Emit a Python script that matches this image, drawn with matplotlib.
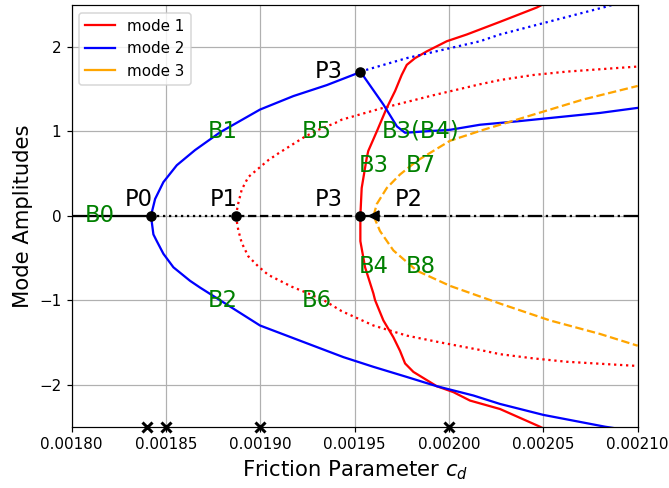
import matplotlib
matplotlib.use("Agg")
import matplotlib.pyplot as plt
from matplotlib.ticker import FormatStrFormatter

# ---- branch data (friction parameter c_d, mode amplitude) ----
# mode 2, stable upper branch from P0 up to P3
m2_up_x = [0.001842, 0.0018442, 0.0018486, 0.0018557, 0.0018654, 0.0018786,
           0.0018998, 0.0019175, 0.0019352, 0.0019502, 0.001953]
m2_up_y = [0.0, 0.20, 0.40, 0.60, 0.78, 0.99, 1.26, 1.42, 1.55, 1.68, 1.71]

# mode 2, stable lower branch from P0
m2_lo_x = [0.001842, 0.0018433, 0.0018451, 0.0018486, 0.0018539, 0.0018627,
           0.001868, 0.0018786, 0.0018998, 0.001921, 0.001944, 0.0019599,
           0.0019776, 0.0019935, 0.0020129, 0.002027, 0.00205, 0.0020827, 0.0021]
m2_lo_y = [0.0, -0.22, -0.30, -0.45, -0.61, -0.77, -0.85, -1.00, -1.30, -1.48,
           -1.675, -1.79, -1.91, -2.02, -2.13, -2.23, -2.36, -2.50, -2.56]

# mode 2 after P3: stable branch B3(B4) and unstable continuation
m2_b34_x = [0.001953, 0.0019652, 0.0019724, 0.0019767, 0.0019864, 0.0020005,
            0.0020164, 0.0020359, 0.00208, 0.0021]
m2_b34_y = [1.71, 1.32, 1.06, 0.985, 1.00, 1.02, 1.08, 1.12, 1.22, 1.28]
m2_uns_x = [0.001953, 0.0019776, 0.0020164, 0.002027, 0.0020833, 0.002091]
m2_uns_y = [1.71, 1.87, 2.07, 2.15, 2.48, 2.53]

# mode 1, stable branches from P3
m1_up_x = [0.001953, 0.0019537, 0.0019564, 0.0019572, 0.0019617, 0.001967,
           0.0019714, 0.0019749, 0.0019776, 0.001982, 0.0019882, 0.0019988,
           0.0020094, 0.002027, 0.0020465, 0.0020509]
m1_up_y = [0.0, 0.33, 0.69, 0.77, 1.00, 1.28, 1.48, 1.67, 1.79, 1.87, 1.95,
           2.07, 2.15, 2.30, 2.47, 2.52]
m1_lo_x = [0.001953, 0.001953, 0.0019555, 0.0019599, 0.0019608, 0.0019652,
           0.0019705, 0.001974, 0.0019767, 0.0019811, 0.0019935, 0.0020023,
           0.0020111, 0.002027, 0.0020482, 0.0020525]
m1_lo_y = [0.0, -0.30, -0.61, -0.92, -1.00, -1.24, -1.44, -1.60, -1.75, -1.85,
           -2.02, -2.09, -2.19, -2.29, -2.50, -2.55]

# mode 1, unstable branches from P1
m1u_up_x = [0.001887, 0.0018883, 0.0018901, 0.0018936, 0.0018989, 0.0019042,
            0.0019095, 0.0019166, 0.0019237, 0.0019307, 0.0019396, 0.0019431,
            0.0019634, 0.0019776, 0.0019917, 0.0020164, 0.002027, 0.0020447,
            0.0020624, 0.0021]
m1u_up_y = [0.0, 0.15, 0.31, 0.46, 0.56, 0.66, 0.74, 0.84, 0.94, 1.02, 1.10,
            1.14, 1.27, 1.35, 1.43, 1.56, 1.61, 1.67, 1.71, 1.77]
m1u_lo_x = [0.001887, 0.0018883, 0.0018901, 0.0018936, 0.0018989, 0.0019042,
            0.0019113, 0.0019166, 0.0019254, 0.0019343, 0.0019431, 0.0019599,
            0.0019776, 0.0019952, 0.0020164, 0.002027, 0.0020447, 0.0020624,
            0.0021]
m1u_lo_y = [0.0, -0.17, -0.32, -0.48, -0.60, -0.70, -0.78, -0.84, -0.92, -1.01,
            -1.13, -1.30, -1.42, -1.50, -1.59, -1.64, -1.69, -1.73, -1.78]

# mode 3, branches from P2
m3_up_x = [0.00196, 0.0019617, 0.001967, 0.001974, 0.0019829, 0.0020005,
           0.0020182, 0.0020447, 0.0020712, 0.0021]
m3_up_y = [0.0, 0.14, 0.33, 0.49, 0.65, 0.89, 1.02, 1.20, 1.38, 1.54]
m3_lo_x = [0.00196, 0.0019634, 0.0019705, 0.0019829, 0.0020005, 0.002027,
           0.0020535, 0.00208, 0.0021]
m3_lo_y = [0.0, -0.18, -0.41, -0.65, -0.83, -1.04, -1.24, -1.40, -1.54]

# bifurcation points
P0 = (0.001842, 0.0)
P1 = (0.001887, 0.0)
P2 = (0.00196, 0.0)
P3_zero = (0.001953, 0.0)
P3_up = (0.001953, 1.71)
x_min, x_max = 0.0018, 0.0021

# critical friction values marked on the axis
cd_marks = [0.00184, 0.00185, 0.00190, 0.00200]

branch_names = ["B0", "B1", "B2", "B5", "B6", "B3(B4)", "B3", "B7", "B4", "B8"]
branch_pos = [(0.001815, 0.0), (0.00188, 1.0), (0.00188, -1.0),
              (0.00193, 1.0), (0.00193, -1.0), (0.001985, 1.0),
              (0.00196, 0.6), (0.001985, 0.6), (0.00196, -0.6),
              (0.001985, -0.6)]

point_names = ["P0", "P1", "P3", "P2", "P3"]
point_label_pos = [(0.0018283, 0.12), (0.0018733, 0.12), (0.001929, 0.12),
                   (0.0019714, 0.12), (0.001929, 1.63)]

dpi = 108.5
fig = plt.figure(figsize=(669 / dpi, 488 / dpi), dpi=dpi)
ax = fig.add_axes([0.1072, 0.1256, 0.8460, 0.8642])

# trivial solution along zero amplitude
ax.plot([x_min, P0[0]], [0, 0], color="black", ls="-", lw=1.5)
ax.plot([P0[0], P1[0]], [0, 0], color="black", ls=":", lw=1.5)
ax.plot([P1[0], P3_zero[0]], [0, 0], color="black", ls="--", lw=1.5)
ax.plot([P3_zero[0], x_max], [0, 0], color="black", ls="-.", lw=1.5)

ax.plot(m1_up_x, m1_up_y, color="red", lw=1.5, label="mode 1")
ax.plot(m1_lo_x, m1_lo_y, color="red", lw=1.5)
ax.plot(m1u_up_x, m1u_up_y, color="red", ls=":", lw=1.5)
ax.plot(m1u_lo_x, m1u_lo_y, color="red", ls=":", lw=1.5)

ax.plot(m2_up_x, m2_up_y, color="blue", lw=1.5, label="mode 2")
ax.plot(m2_lo_x, m2_lo_y, color="blue", lw=1.5)
ax.plot(m2_b34_x, m2_b34_y, color="blue", lw=1.5)
ax.plot(m2_uns_x, m2_uns_y, color="blue", ls=":", lw=1.5)

ax.plot(m3_up_x, m3_up_y, color="orange", ls="--", lw=1.5)
ax.plot(m3_lo_x, m3_lo_y, color="orange", ls="--", lw=1.5)
ax.plot([], [], color="orange", lw=1.5, label="mode 3")

for p in (P0, P1, P3_zero, P3_up):
    ax.plot(p[0], p[1], "o", color="black", ms=6, zorder=3)
ax.plot(P2[0], P2[1], "<", color="black", ms=6, zorder=3)

ax.plot(cd_marks, [-2.5] * len(cd_marks), "x", color="black", ms=6, mew=2,
        clip_on=False, zorder=4)

for name, (tx, ty) in zip(branch_names, branch_pos):
    ax.text(tx, ty, name, color="green", fontsize=15, ha="center", va="center")
for name, (tx, ty) in zip(point_names, point_label_pos):
    ax.text(tx, ty, name, color="black", fontsize=15, ha="left", va="baseline")

ax.set_xlim(x_min, x_max)
ax.set_ylim(-2.5, 2.5)
ax.set_xticks([0.00180, 0.00185, 0.00190, 0.00195, 0.00200, 0.00205, 0.00210])
ax.set_yticks([-2, -1, 0, 1, 2])
ax.xaxis.set_major_formatter(FormatStrFormatter("%.5f"))
ax.tick_params(labelsize=10)
ax.grid(True)
ax.set_xlabel("Friction Parameter $c_d$", fontsize=14)
ax.set_ylabel("Mode Amplitudes", fontsize=14)
ax.legend(loc="upper left", fontsize=10)

fig.savefig("out.png", dpi=dpi)
